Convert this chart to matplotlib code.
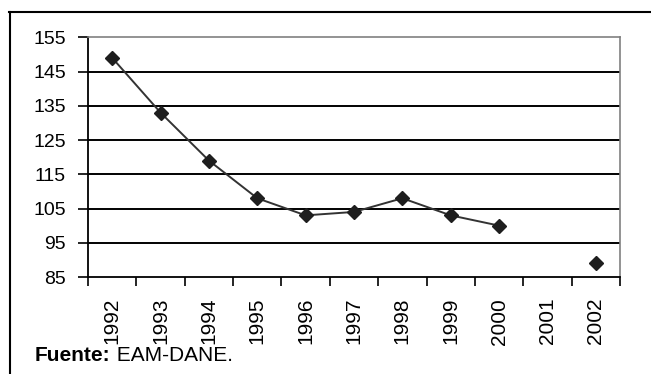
import numpy as np
import matplotlib
matplotlib.use("Agg")
import matplotlib.pyplot as plt
from matplotlib.lines import Line2D
from matplotlib.ticker import FixedLocator

years = ["1992", "1993", "1994", "1995", "1996", "1997", "1998", "1999", "2000", "2001", "2002"]
values = [149, 133, 119, 108, 103, 104, 108, 103, 100, np.nan, 89]
yticks = [85, 95, 105, 115, 125, 135, 145, 155]
source_bold = "Fuente:"
source_rest = " EAM-DANE."

plt.rcParams['font.family'] = ['Liberation Sans', 'DejaVu Sans']

W, H = 651, 374
fig = plt.figure(figsize=(W / 100, H / 100), dpi=100)
fig.patch.set_facecolor('white')

left, right, top, bottom = 88, 620, 37.3, 277
ax = fig.add_axes([left / W, 1 - bottom / H, (right - left) / W, (bottom - top) / H])

x = np.arange(len(years))
ax.plot(x, values, color='#333333', lw=1.4, marker='D', ms=7.5,
        markerfacecolor='#1e1e1e', markeredgecolor='#1e1e1e', zorder=5, clip_on=False)

ax.set_xlim(-0.5, len(years) - 0.5)
ax.set_ylim(yticks[0], yticks[-1])

# gridlines
for v in yticks[1:-1]:
    ax.axhline(v, color='black', lw=1.4, zorder=1)

ax.set_yticks(yticks)
ax.set_yticklabels([str(v) for v in yticks])
ax.tick_params(axis='y', direction='out', length=7.5, width=1.2, pad=8.5,
               labelsize=14, colors='black')

ax.xaxis.set_major_locator(FixedLocator(np.arange(len(years) + 1) - 0.5))
ax.xaxis.set_minor_locator(FixedLocator(x))
ax.set_xticklabels([], minor=False)
ax.set_xticklabels(years, minor=True, rotation=90, va='top', ha='center')
ax.tick_params(axis='x', which='major', direction='out', length=6.5, width=1.2, colors='black')
ax.tick_params(axis='x', which='minor', length=0, pad=15, labelsize=15, labelcolor='black')

for s in ['left', 'bottom']:
    ax.spines[s].set_color('black')
    ax.spines[s].set_linewidth(1.3)
for s in ['top', 'right']:
    ax.spines[s].set_color('#808080')
    ax.spines[s].set_linewidth(1.2)

# outer frame (left and top sides visible)
fig.add_artist(Line2D([9.5 / W, 9.5 / W], [0, 1 - 12 / H], color='black', lw=1.5,
                      transform=fig.transFigure))
fig.add_artist(Line2D([9 / W, 1], [1 - 12 / H, 1 - 12 / H], color='black', lw=1.5,
                      transform=fig.transFigure))

t1 = fig.text(35 / W, 1 - 365 / H, source_bold, fontsize=15, fontweight='bold',
              va='bottom', ha='left', color='black')
ax.annotate(source_rest, xy=(1, 0), xycoords=t1, va='bottom', ha='left',
            fontsize=15, color='black')

fig.savefig("out.png", dpi=100, facecolor='white')
